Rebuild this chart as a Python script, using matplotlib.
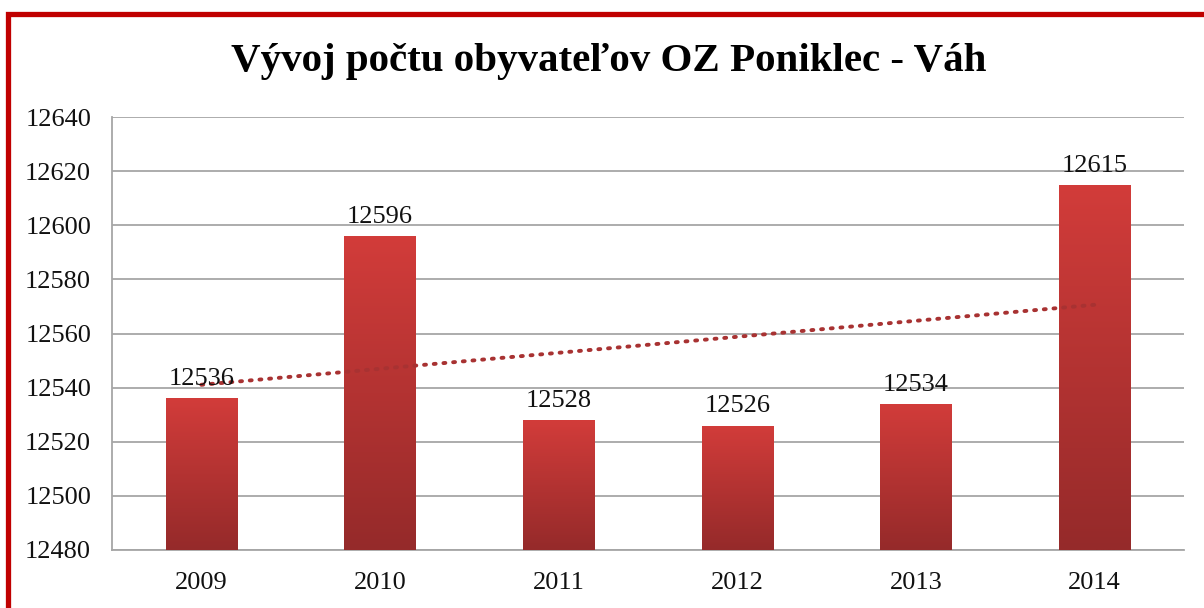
import numpy as np
import matplotlib
matplotlib.use("Agg")
import matplotlib.pyplot as plt
from matplotlib.patches import Rectangle
from matplotlib.colors import LinearSegmentedColormap

years = ["2009", "2010", "2011", "2012", "2013", "2014"]
population = [12536, 12596, 12528, 12526, 12534, 12615]
title = "Vývoj počtu obyvateľov OZ Poniklec - Váh"

plt.rcParams['font.family'] = ['Liberation Serif', 'DejaVu Serif']

fig = plt.figure(figsize=(12.04, 6.08), dpi=100)
ax = fig.add_axes([112/1204, 1-550/608, (1184-112)/1204, (550-117)/608])

x = np.arange(len(years))
ymin, ymax = 12480, 12640
bars = ax.bar(x, population, width=0.4, color='#B83232', zorder=3, linewidth=0)

cmap = LinearSegmentedColormap.from_list('g', ['#952A2A', '#D23C3A'])
grad = np.linspace(0, 1, 256).reshape(-1, 1)
for b in bars:
    bx, by = b.get_x(), b.get_y()
    w, h = b.get_width(), b.get_height()
    im = ax.imshow(grad, cmap=cmap, origin='lower', aspect='auto',
                   extent=[bx, bx + w, ymin, by + h], zorder=3.5)
    im.set_clip_path(b)

# linear trendline
coef = np.polyfit(x, population, 1)
ax.plot(x, np.polyval(coef, x), linestyle=(0, (0.5, 2.0)), dash_capstyle='round',
        color='#A83232', lw=2.8, zorder=5)

for xi, v in zip(x, population):
    ax.text(xi, v + 3, str(v), ha='center', va='bottom', fontsize=19, color='#111111', zorder=6)

ax.set_xlim(-0.5, len(years) - 0.5)
ax.set_ylim(ymin, ymax)
ax.set_yticks(np.arange(ymin, ymax + 1, 20))
ax.set_xticks(x)
ax.set_xticklabels(years)
ax.tick_params(axis='both', length=0, labelsize=19, colors='#111111')
ax.tick_params(axis='y', pad=15)
ax.tick_params(axis='x', pad=16)
ax.grid(axis='y', color='#A6A6A6', lw=1.3, zorder=0)
for s in ['top', 'right']:
    ax.spines[s].set_visible(False)
for s in ['left', 'bottom']:
    ax.spines[s].set_color('#A6A6A6')
    ax.spines[s].set_linewidth(1.3)

fig.text(0.506, 1-62/608, title, ha='center', va='center', fontsize=29.5, fontweight='bold', color='#000000')

# red frame
fig.patches.append(Rectangle((7.5/1204, -0.1), 1.2, (1-14.5/608) + 0.1, transform=fig.transFigure,
                             fill=False, edgecolor='#C00000', lw=3.8, zorder=10))

fig.savefig('out.png', dpi=100)
